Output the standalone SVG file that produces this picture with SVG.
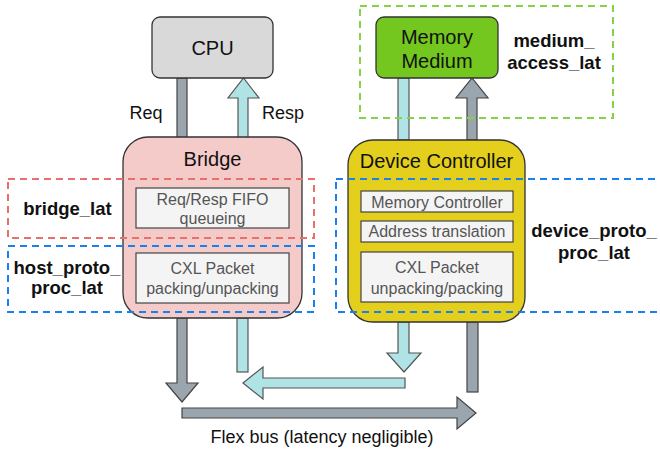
<svg xmlns="http://www.w3.org/2000/svg" width="660" height="452" viewBox="0 0 660 452">
<style>
text{font-family:"Liberation Sans",Arial,sans-serif;text-anchor:middle}
.node{stroke:#333;stroke-width:1.3}
.inner{fill:#f4f4f4;stroke:#444;stroke-width:1.2}
.it{font-size:16px;fill:#555}
.t{font-size:20px;fill:#111}
.lbl{font-size:18.5px;font-weight:bold;fill:#111}
.pl{font-size:18px;fill:#111}
.gray{fill:#9aa5ad;stroke:#444;stroke-width:1.2}
.blue{fill:#b0e3e6;stroke:#555;stroke-width:1.2}
.dash{fill:none;stroke-width:2;stroke-dasharray:7,5}
</style>
<g id="connectors">
<rect class="gray" x="177" y="78" width="10" height="60"/>
<polygon class="blue" points="238,138 238,98 228,98 243.5,78 259,98 248,98 248,138"/>
<rect class="blue" x="398" y="78" width="11" height="62"/>
<polygon class="gray" points="467,140 467,98 456,98 472,78 488,98 477,98 477,140"/>
<polygon class="gray" points="177,318 177,383 166,383 182,402 198,383 187,383 187,318"/>
<rect class="blue" x="237" y="318" width="11" height="54"/>
<polygon class="blue" points="398,322 398,353 387,353 404,372 421,353 409,353 409,322"/>
<polygon class="blue" points="405,378 263,378 263,367 243,383 263,399 263,388 405,388"/>
<rect class="gray" x="467" y="322" width="11" height="70"/>
<polygon class="gray" points="182,408 457,408 457,397 476,413 457,429 457,418 182,418"/>
</g>
<g id="cpu">
<rect class="node" x="152" y="17" width="121" height="61" rx="8" fill="#d9d9d9"/>
<text class="t" x="212.5" y="55">CPU</text>
</g>
<g id="memory-medium">
<rect class="node" x="376" y="17" width="122" height="61" rx="8" fill="#74c71f"/>
<text class="t" x="437" y="44">Memory</text>
<text class="t" x="437" y="68">Medium</text>
</g>
<g id="bridge">
<rect class="node" x="123" y="137" width="179" height="181" rx="25" fill="#f5cbca"/>
<text class="t" x="212.5" y="166">Bridge</text>
<rect class="inner" x="136" y="188" width="153" height="40"/>
<text class="it" x="212.5" y="205">Req/Resp FIFO</text>
<text class="it" x="212.5" y="224">queueing</text>
<rect class="inner" x="136" y="253" width="153" height="50"/>
<text class="it" x="212.5" y="274">CXL Packet</text>
<text class="it" x="212.5" y="294">packing/unpacking</text>
</g>
<g id="device-controller">
<rect class="node" x="348" y="140" width="177" height="182" rx="25" fill="#e3cf1c"/>
<text class="t" x="436.5" y="168">Device Controller</text>
<rect class="inner" x="361" y="191" width="152" height="21"/>
<text class="it" x="437" y="207.5">Memory Controller</text>
<rect class="inner" x="361" y="221" width="152" height="21"/>
<text class="it" x="437" y="237">Address translation</text>
<rect class="inner" x="361" y="252" width="152" height="50"/>
<text class="it" x="437" y="273">CXL Packet</text>
<text class="it" x="437" y="294">unpacking/packing</text>
</g>
<g id="bridge-lat">
<rect class="dash" x="8" y="179" width="306" height="59" stroke="#e8706a"/>
<text class="lbl" x="67.5" y="215">bridge_lat</text>
</g>
<g id="host-proto-proc-lat">
<rect class="dash" x="8" y="246" width="306" height="66" stroke="#1a80f0"/>
<text class="lbl" x="67" y="274">host_proto_</text>
<text class="lbl" x="67" y="294">proc_lat</text>
</g>
<g id="device-proto-proc-lat">
<rect class="dash" x="336" y="179" width="340" height="133" stroke="#1a80f0"/>
<text class="lbl" x="594" y="237">device_proto_</text>
<text class="lbl" x="594" y="259">proc_lat</text>
</g>
<g id="medium-access-lat">
<rect class="dash" x="360" y="6" width="253" height="112" stroke="#84d14a"/>
<text class="lbl" x="554" y="47">medium_</text>
<text class="lbl" x="554" y="69">access_lat</text>
</g>
<g id="labels">
<text class="pl" x="146" y="119">Req</text>
<text class="pl" x="283" y="119">Resp</text>
<text class="pl" x="322" y="443">Flex bus (latency negligible)</text>
</g>
</svg>
